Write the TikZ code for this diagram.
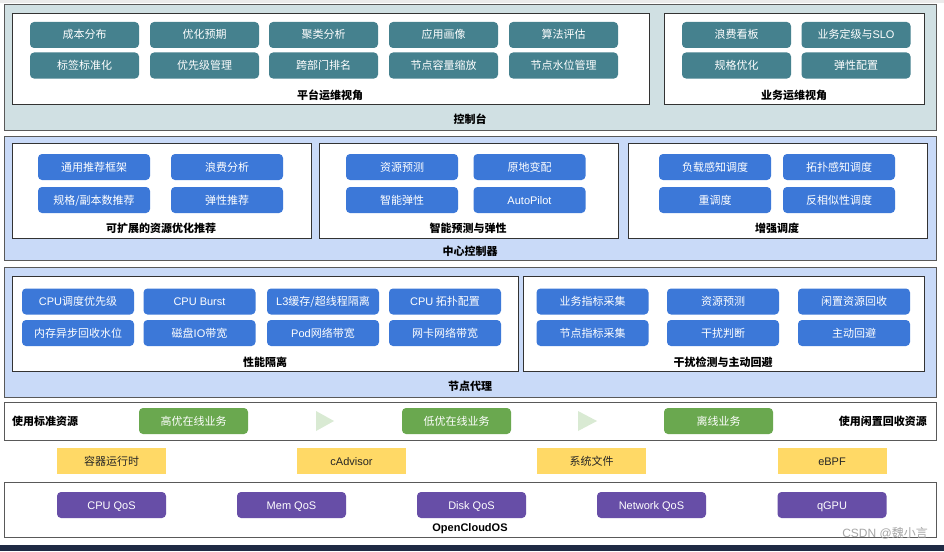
\documentclass[tikz,border=0pt]{standalone}
\usepackage{fontspec}
\setmainfont{Noto Sans CJK SC}
\newfontfamily\latf{Liberation Sans}
\usetikzlibrary{positioning}
\definecolor{tealb}{HTML}{45818E}
\definecolor{blueb}{HTML}{3C78D8}
\definecolor{greenb}{HTML}{6AA84F}
\definecolor{yellowb}{HTML}{FFD966}
\definecolor{purpleb}{HTML}{674EA7}
\definecolor{topfill}{HTML}{D0E0E3}
\definecolor{midfill}{HTML}{C9DAF8}
\definecolor{trifill}{HTML}{D9EAD3}
\definecolor{darkstrip}{HTML}{1F2A44}
\tikzset{
  btn/.style={rounded corners=4pt, minimum height=26pt, inner sep=0pt, text height=9pt, text depth=1pt, text=white, font=\fontsize{11}{12}\selectfont},
  tealbtn/.style={btn, fill=tealb, minimum width=109pt},
  bluebtn/.style={btn, fill=blueb, minimum width=112pt},
  greenbtn/.style={btn, fill=greenb, minimum width=109pt},
  yellowbtn/.style={btn, rounded corners=0pt, fill=yellowb, text=black!85, minimum width=109pt},
  purplebtn/.style={btn, fill=purpleb, minimum width=109pt},
  outerpanel/.style={draw=black!65, line width=1pt},
  innerpanel/.style={draw=black!80, line width=0.8pt, fill=white},
  lbl/.style={font=\fontsize{11}{12}\selectfont\bfseries, inner sep=0pt, text height=9pt, text depth=1pt}
}
\begin{document}
\begin{tikzpicture}[x=1pt,y=-1pt]
\useasboundingbox (0,0) rectangle (944,551);
\fill[white] (0,0) rectangle (944,551);
\fill[black!8] (0,0) rectangle (944,3);
\fill[darkstrip] (0,545) rectangle (944,551);

% ---------- 控制台 ----------
\draw[outerpanel, fill=topfill] (4,5) rectangle (936,130);
\draw[innerpanel] (12,13) rectangle (649,104);
\draw[innerpanel] (664,13) rectangle (924,104);
\node[tealbtn] (a1) at (84.5,35) {成本分布};
\node[tealbtn] (a2) at (204.5,35) {优化预期};
\node[tealbtn] (a3) at (323.5,35) {聚类分析};
\node[tealbtn] (a4) at (443.5,35) {应用画像};
\node[tealbtn] (a5) at (563.5,35) {算法评估};
\node[tealbtn] (b1) at (84.5,65.5) {标签标准化};
\node[tealbtn] (b2) at (204.5,65.5) {优先级管理};
\node[tealbtn] (b3) at (323.5,65.5) {跨部门排名};
\node[tealbtn] (b4) at (443.5,65.5) {节点容量缩放};
\node[tealbtn] (b5) at (563.5,65.5) {节点水位管理};
\node[tealbtn] (c1) at (736.5,35) {浪费看板};
\node[tealbtn] (c2) at (856,35) {业务定级与{\latf SLO}};
\node[tealbtn] (d1) at (736.5,65.5) {规格优化};
\node[tealbtn] (d2) at (856,65.5) {弹性配置};
\node[lbl] (l1) at (330,95) {平台运维视角};
\node[lbl] (l2) at (794,95) {业务运维视角};
\node[lbl] (l3) at (470,119) {控制台};

% ---------- 中心控制器 ----------
\draw[outerpanel, fill=midfill] (4,136) rectangle (936,260);
\draw[innerpanel] (12,143) rectangle (311,238);
\draw[innerpanel] (319,143) rectangle (618,238);
\draw[innerpanel] (628,143) rectangle (927,238);
\node[bluebtn] (e1) at (94,167) {通用推荐框架};
\node[bluebtn] (e2) at (227,167) {浪费分析};
\node[bluebtn] (e3) at (94,200) {规格/副本数推荐};
\node[bluebtn] (e4) at (227,200) {弹性推荐};
\node[bluebtn] (f1) at (402,167) {资源预测};
\node[bluebtn] (f2) at (529.5,167) {原地变配};
\node[bluebtn] (f3) at (402,200) {智能弹性};
\node[bluebtn] (f4) at (529.5,200) {\latf AutoPilot};
\node[bluebtn] (g1) at (715,167) {负载感知调度};
\node[bluebtn] (g2) at (839,167) {拓扑感知调度};
\node[bluebtn] (g3) at (715,200) {重调度};
\node[bluebtn] (g4) at (839,200) {反相似性调度};
\node[lbl] (l4) at (161,228) {可扩展的资源优化推荐};
\node[lbl] (l5) at (468,228) {智能预测与弹性};
\node[lbl] (l6) at (777,228) {增强调度};
\node[lbl] (l7) at (470,251) {中心控制器};

% ---------- 节点代理 ----------
\draw[outerpanel, fill=midfill] (4,267) rectangle (936,397);
\draw[innerpanel] (12,276) rectangle (518,371);
\draw[innerpanel] (523,276) rectangle (924,371);
\node[bluebtn] (h1) at (78,301.5) {{\latf CPU}调度优先级};
\node[bluebtn] (h2) at (199.5,301.5) {\latf CPU Burst};
\node[bluebtn] (h3) at (323,301.5) {{\latf L3}缓存/超线程隔离};
\node[bluebtn] (h4) at (445,301.5) {{\latf CPU} 拓扑配置};
\node[bluebtn] (i1) at (78,333) {内存异步回收水位};
\node[bluebtn] (i2) at (199.5,333) {磁盘{\latf IO}带宽};
\node[bluebtn] (i3) at (323,333) {{\latf Pod}网络带宽};
\node[bluebtn] (i4) at (445,333) {网卡网络带宽};
\node[bluebtn] (j1) at (592.5,301.5) {业务指标采集};
\node[bluebtn] (j2) at (723,301.5) {资源预测};
\node[bluebtn] (j3) at (854,301.5) {闲置资源回收};
\node[bluebtn] (k1) at (592.5,333) {节点指标采集};
\node[bluebtn] (k2) at (723,333) {干扰判断};
\node[bluebtn] (k3) at (854,333) {主动回避};
\node[lbl] (l8) at (265,362) {性能隔离};
\node[lbl] (l9) at (723,362) {干扰检测与主动回避};
\node[lbl] (l10) at (470,386) {节点代理};

% ---------- 业务 ----------
\draw[outerpanel, fill=white] (4,402) rectangle (936,440);
\node[lbl, anchor=west] (m0) at (12,421) {使用标准资源};
\node[lbl, anchor=east] (m4) at (927,421) {使用闲置回收资源};
\node[greenbtn] (m1) at (193.5,421) {高优在线业务};
\node[greenbtn] (m2) at (456.5,421) {低优在线业务};
\node[greenbtn] (m3) at (718.5,421) {离线业务};
\fill[trifill] (316,411) -- (334,421) -- (316,431) -- cycle;
\fill[trifill] (578,411) -- (597,421) -- (578,431) -- cycle;

% ---------- yellow ----------
\node[yellowbtn] (n1) at (111.5,461) {容器运行时};
\node[yellowbtn] (n2) at (351.5,461) {\latf cAdvisor};
\node[yellowbtn] (n3) at (591.5,461) {系统文件};
\node[yellowbtn] (n4) at (832,461) {\latf eBPF};

% ---------- OpenCloudOS ----------
\draw[outerpanel, fill=white] (4,482) rectangle (936,537);
\node[purplebtn] (o1) at (111.5,505) {\latf CPU QoS};
\node[purplebtn] (o2) at (291.5,505) {\latf Mem QoS};
\node[purplebtn] (o3) at (471.5,505) {\latf Disk QoS};
\node[purplebtn] (o4) at (651.5,505) {\latf Network QoS};
\node[purplebtn] (o5) at (832,505) {\latf qGPU};
\node[lbl] (l11) at (470,527) {\latf\bfseries OpenCloudOS};
\node[font=\fontsize{12}{12}\selectfont, text=black!35, anchor=east, inner sep=0pt] (wm) at (928,533) {{\latf CSDN @}魏小言};
\end{tikzpicture}
\end{document}
